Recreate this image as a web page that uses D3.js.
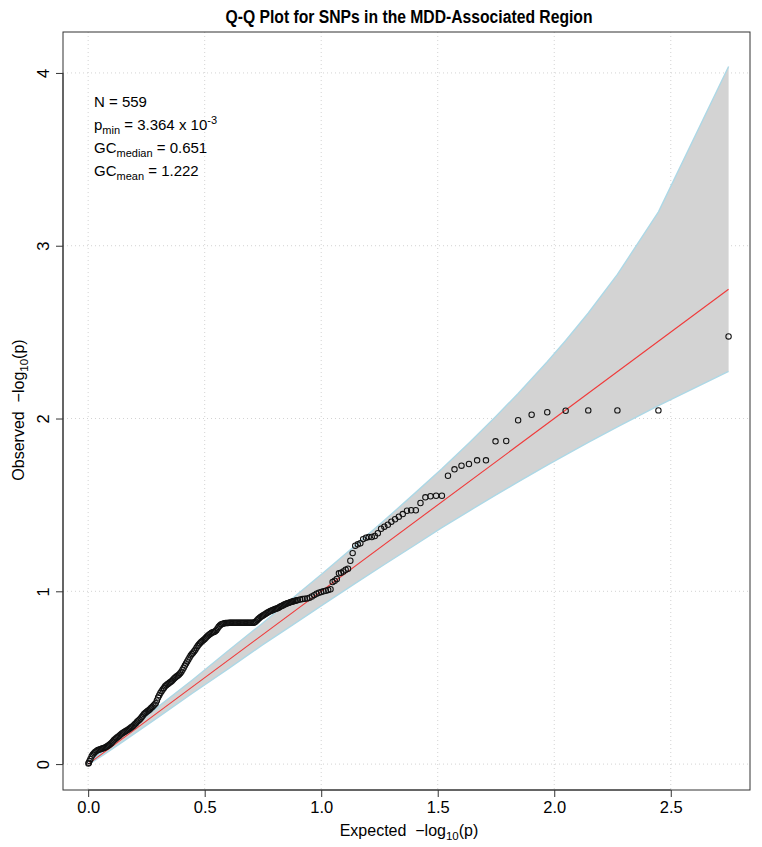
<!DOCTYPE html>
<html>
<head>
<meta charset="utf-8">
<script src="https://cdn.jsdelivr.net/npm/d3@7"></script>
<style>
html,body{margin:0;padding:0;background:#fff;}
svg{display:block;}
text{font-family:"Liberation Sans",Arial,Helvetica,sans-serif;fill:#000;}
</style>
</head>
<body>
<svg id="chart" width="762" height="847"></svg>
<script>
// ---- data ----
const titleText = "Q-Q Plot for SNPs in the MDD-Associated Region";
const xTicks = [0, 0.5, 1, 1.5, 2, 2.5];
const xTickLabels = ["0.0", "0.5", "1.0", "1.5", "2.0", "2.5"];
const yTicks = [0, 1, 2, 3, 4];
const yTickLabels = ["0", "1", "2", "3", "4"];

// sparse (top) points: expected vs observed -log10(p)
const sparseExpected = [2.748,2.447,2.271,2.146,2.049,1.970,1.903,1.845,1.794,1.748,
  1.707,1.669,1.634,1.602,1.572,1.544,1.518,1.493,1.469,1.447,
  1.426,1.406,1.386,1.368,1.350,1.333,1.317,1.301,1.286,1.271,
  1.257,1.243,1.230,1.217,1.204,1.192,1.180,1.168,1.157,1.146,
  1.135,1.125,1.115,1.105,1.095,1.085,1.076,1.067,1.058,1.049];
const sparseObserved = [2.475,2.047,2.047,2.047,2.045,2.036,2.022,1.990,1.870,1.868,
  1.758,1.758,1.737,1.727,1.706,1.669,1.553,1.553,1.550,1.544,
  1.511,1.469,1.469,1.466,1.447,1.432,1.417,1.403,1.385,1.374,
  1.362,1.336,1.320,1.314,1.314,1.310,1.302,1.278,1.272,1.264,
  1.221,1.177,1.131,1.125,1.115,1.107,1.104,1.071,1.061,1.054];

// dense (lower) part: [expected, observed] readings along the thick trace
const denseTrace = [
  [1.040,1.012],[1.030,1.008],[1.020,1.003],[1.010,1.000],[1.000,0.996],[0.990,0.992],
  [0.980,0.986],[0.970,0.978],[0.960,0.970],[0.950,0.963],[0.940,0.959],[0.930,0.957],
  [0.920,0.955],[0.910,0.952],[0.900,0.949],[0.895,0.948],[0.890,0.946],[0.885,0.944],
  [0.880,0.942],[0.875,0.940],[0.870,0.938],[0.865,0.936],[0.860,0.933],[0.855,0.931],
  [0.850,0.928],[0.845,0.925],[0.840,0.922],[0.835,0.918],[0.830,0.915],[0.825,0.912],
  [0.820,0.908],[0.815,0.904],[0.810,0.901],[0.805,0.899],[0.800,0.896],[0.795,0.893],
  [0.790,0.890],[0.785,0.887],[0.780,0.884],[0.775,0.881],[0.770,0.878],[0.765,0.873],
  [0.760,0.868],[0.755,0.864],[0.750,0.860],[0.745,0.856],[0.740,0.852],[0.735,0.846],
  [0.730,0.840],[0.725,0.833],[0.720,0.826],[0.715,0.821],[0.710,0.818],[0.705,0.818],
  [0.700,0.818],[0.695,0.818],[0.690,0.818],[0.685,0.818],[0.680,0.818],[0.675,0.818],
  [0.670,0.818],[0.665,0.818],[0.660,0.818],[0.655,0.818],[0.650,0.818],[0.645,0.818],
  [0.640,0.818],[0.635,0.818],[0.630,0.818],[0.625,0.818],[0.620,0.818],[0.615,0.818],
  [0.610,0.818],[0.605,0.818],[0.600,0.817],[0.595,0.817],[0.590,0.816],[0.585,0.815],
  [0.580,0.813],[0.575,0.811],[0.570,0.808],[0.565,0.802],[0.560,0.795],[0.555,0.785],
  [0.550,0.775],[0.545,0.769],[0.540,0.765],[0.535,0.763],[0.530,0.760],[0.525,0.755],
  [0.520,0.750],[0.515,0.744],[0.510,0.738],[0.505,0.731],[0.500,0.724],[0.495,0.718],
  [0.490,0.712],[0.485,0.706],[0.480,0.700],[0.475,0.692],[0.470,0.683],[0.465,0.673],
  [0.460,0.662],[0.455,0.653],[0.450,0.645],[0.445,0.637],[0.440,0.628],[0.435,0.617],
  [0.430,0.605],[0.425,0.594],[0.420,0.582],[0.415,0.570],[0.410,0.558],[0.405,0.546],
  [0.400,0.535],[0.395,0.526],[0.390,0.518],[0.385,0.513],[0.380,0.508],[0.375,0.503],
  [0.370,0.497],[0.365,0.489],[0.360,0.482],[0.355,0.477],[0.350,0.472],[0.345,0.467],
  [0.340,0.462],[0.335,0.456],[0.330,0.450],[0.325,0.441],[0.320,0.432],[0.315,0.422],
  [0.310,0.412],[0.305,0.399],[0.300,0.385],[0.295,0.368],[0.290,0.352],[0.285,0.345],
  [0.280,0.338],[0.275,0.331],[0.270,0.325],[0.265,0.318],[0.260,0.312],[0.255,0.307],
  [0.250,0.302],[0.245,0.296],[0.240,0.290],[0.235,0.281],[0.230,0.272],[0.225,0.264],
  [0.220,0.257],[0.215,0.251],[0.210,0.245],[0.205,0.237],[0.200,0.230],[0.195,0.224],
  [0.190,0.218],[0.185,0.213],[0.180,0.208],[0.175,0.203],[0.170,0.198],[0.165,0.194],
  [0.160,0.190],[0.155,0.186],[0.150,0.182],[0.145,0.177],[0.140,0.172],[0.135,0.166],
  [0.130,0.160],[0.125,0.155],[0.120,0.150],[0.115,0.144],[0.110,0.138],[0.105,0.130],
  [0.100,0.122],[0.095,0.116],[0.090,0.110],[0.085,0.106],[0.080,0.102],[0.075,0.098],
  [0.070,0.094],[0.065,0.092],[0.060,0.090],[0.055,0.088],[0.050,0.085],[0.045,0.083],
  [0.040,0.080],[0.035,0.075],[0.030,0.070],[0.025,0.063],[0.020,0.055],[0.015,0.045],
  [0.010,0.030],[0.006,0.018],[0.003,0.008],[0.001,0.003]
];

// 90% confidence band
const bandExpected = [0.0008,0.0158,0.0669,0.1461,0.3010,0.4472,0.6021,0.7482,0.8731,1.0078,
  1.1461,1.2711,1.4058,1.5177,1.6343,1.7482,1.8451,1.9700,2.0492,2.1461,2.2711,2.4472,2.7482];
const bandUpper = [0.0023,0.0216,0.0794,0.1656,0.3323,0.4870,0.6577,0.8150,0.9550,1.1062,
  1.2645,1.4107,1.5726,1.7087,1.8582,2.0102,2.1451,2.3284,2.4513,2.6106,2.8339,3.1962,4.0374];
const bandLower = [0.0000,0.0100,0.0548,0.1273,0.2718,0.4100,0.5527,0.6900,0.8010,0.9225,
  1.0455,1.1551,1.2710,1.3682,1.4644,1.5565,1.6333,1.7299,1.7898,1.8616,1.9517,2.0742,2.2733];

const lineEnd = [0, 2.748]; // y = x reference line
const legendN = "559", legendPmin = "3.364", legendPminExp = "-3",
      legendGCmedian = "0.651", legendGCmean = "1.222";

// ---- drawing ----
const svg = d3.select("#chart");
const box = {l: 63, r: 750, t: 32, b: 790};
const x = d3.scaleLinear().domain([-0.108, 2.840]).range([box.l, box.r]);
const y = d3.scaleLinear().domain([-0.150, 4.237]).range([box.b, box.t]);

// grid
const grid = svg.append("g").attr("stroke", "#d3d3d3").attr("stroke-dasharray", "1,3").attr("stroke-width", 1);
xTicks.forEach(v => grid.append("line").attr("x1", x(v)).attr("x2", x(v)).attr("y1", box.t).attr("y2", box.b));
yTicks.forEach(v => grid.append("line").attr("x1", box.l).attr("x2", box.r).attr("y1", y(v)).attr("y2", y(v)));

// band
const band = bandExpected.map((e, i) => ({e, u: bandUpper[i], l: bandLower[i]}));
svg.append("path").datum(band)
  .attr("fill", "#d3d3d3").attr("stroke", "none")
  .attr("d", d3.area().x(d => x(d.e)).y0(d => y(d.l)).y1(d => y(d.u)));
svg.append("path").datum(band).attr("fill", "none").attr("stroke", "#add8e6").attr("stroke-width", 1.4)
  .attr("d", d3.line().x(d => x(d.e)).y(d => y(d.u)));
svg.append("path").datum(band).attr("fill", "none").attr("stroke", "#add8e6").attr("stroke-width", 1.4)
  .attr("d", d3.line().x(d => x(d.e)).y(d => y(d.l)));

// reference line
svg.append("line").attr("x1", x(lineEnd[0])).attr("y1", y(lineEnd[0]))
  .attr("x2", x(lineEnd[1])).attr("y2", y(lineEnd[1]))
  .attr("stroke", "#f03a3a").attr("stroke-width", 1.1);

// points
const pts = denseTrace.map(d => ({e: d[0], o: d[1]}))
  .concat(sparseExpected.map((e, i) => ({e, o: sparseObserved[i]})));
svg.append("g").selectAll("circle").data(pts).join("circle")
  .attr("cx", d => x(d.e)).attr("cy", d => y(d.o)).attr("r", 2.7)
  .attr("fill", "none").attr("stroke", "#111").attr("stroke-width", 1.05);

// box
svg.append("rect").attr("x", box.l).attr("y", box.t).attr("width", box.r - box.l).attr("height", box.b - box.t)
  .attr("fill", "none").attr("stroke", "#333").attr("stroke-width", 1);

// x axis
const xAxis = d3.axisBottom(x).tickValues(xTicks).tickFormat((d, i) => xTickLabels[i]).tickSize(7).tickPadding(4);
const gx = svg.append("g").attr("transform", `translate(0,${box.b})`).call(xAxis);
gx.select(".domain").attr("d", `M${x(xTicks[0])},0H${x(xTicks[xTicks.length-1])}`).attr("stroke", "#333");
gx.selectAll(".tick line").attr("stroke", "#333");
gx.selectAll(".tick text").attr("font-size", 16.5).attr("font-family", "Liberation Sans, Arial, sans-serif").attr("fill", "#000");

// y axis
const yAxis = d3.axisLeft(y).tickValues(yTicks).tickFormat((d, i) => yTickLabels[i]).tickSize(7).tickPadding(4);
const gy = svg.append("g").attr("transform", `translate(${box.l},0)`).call(yAxis);
gy.select(".domain").attr("d", `M0,${y(yTicks[0])}V${y(yTicks[yTicks.length-1])}`).attr("stroke", "#333");
gy.selectAll(".tick line").attr("stroke", "#333");
gy.selectAll(".tick text").attr("font-size", 16.5).attr("font-family", "Liberation Sans, Arial, sans-serif").attr("fill", "#000")
  .attr("text-anchor", "middle").attr("dy", null).attr("x", null)
  .attr("transform", "translate(-14,0) rotate(-90)");

// title
svg.append("text").attr("x", 409).attr("y", 23).attr("text-anchor", "middle")
  .attr("font-size", 17.5).attr("font-weight", "bold").attr("textLength", 367).attr("lengthAdjust", "spacingAndGlyphs")
  .text(titleText);

// x axis title
const xt = svg.append("text").attr("x", 409).attr("y", 836).attr("text-anchor", "middle").attr("font-size", 16);
xt.append("tspan").text("Expected\u00a0\u00a0\u2212log");
xt.append("tspan").attr("font-size", 11.5).attr("dy", 4).text("10");
xt.append("tspan").attr("dy", -4).text("(p)");

// y axis title
const yt = svg.append("text").attr("transform", "translate(24,410) rotate(-90)").attr("text-anchor", "middle").attr("font-size", 16);
yt.append("tspan").text("Observed\u00a0\u00a0\u2212log");
yt.append("tspan").attr("font-size", 11.5).attr("dy", 4).text("10");
yt.append("tspan").attr("dy", -4).text("(p)");

// legend
const lg = svg.append("g").attr("font-size", 15);
const l1 = lg.append("text").attr("x", 94).attr("y", 107);
l1.append("tspan").text("N = " + legendN);
const l2 = lg.append("text").attr("x", 94).attr("y", 130);
l2.append("tspan").text("p");
l2.append("tspan").attr("font-size", 11).attr("dy", 3.5).text("min");
l2.append("tspan").attr("dy", -3.5).text(" = " + legendPmin + " x 10");
l2.append("tspan").attr("font-size", 11).attr("dy", -6).text(legendPminExp);
const l3 = lg.append("text").attr("x", 94).attr("y", 153);
l3.append("tspan").text("GC");
l3.append("tspan").attr("font-size", 11).attr("dy", 3.5).text("median");
l3.append("tspan").attr("dy", -3.5).text(" = " + legendGCmedian);
const l4 = lg.append("text").attr("x", 94).attr("y", 176);
l4.append("tspan").text("GC");
l4.append("tspan").attr("font-size", 11).attr("dy", 3.5).text("mean");
l4.append("tspan").attr("dy", -3.5).text(" = " + legendGCmean);
</script>
</body>
</html>
